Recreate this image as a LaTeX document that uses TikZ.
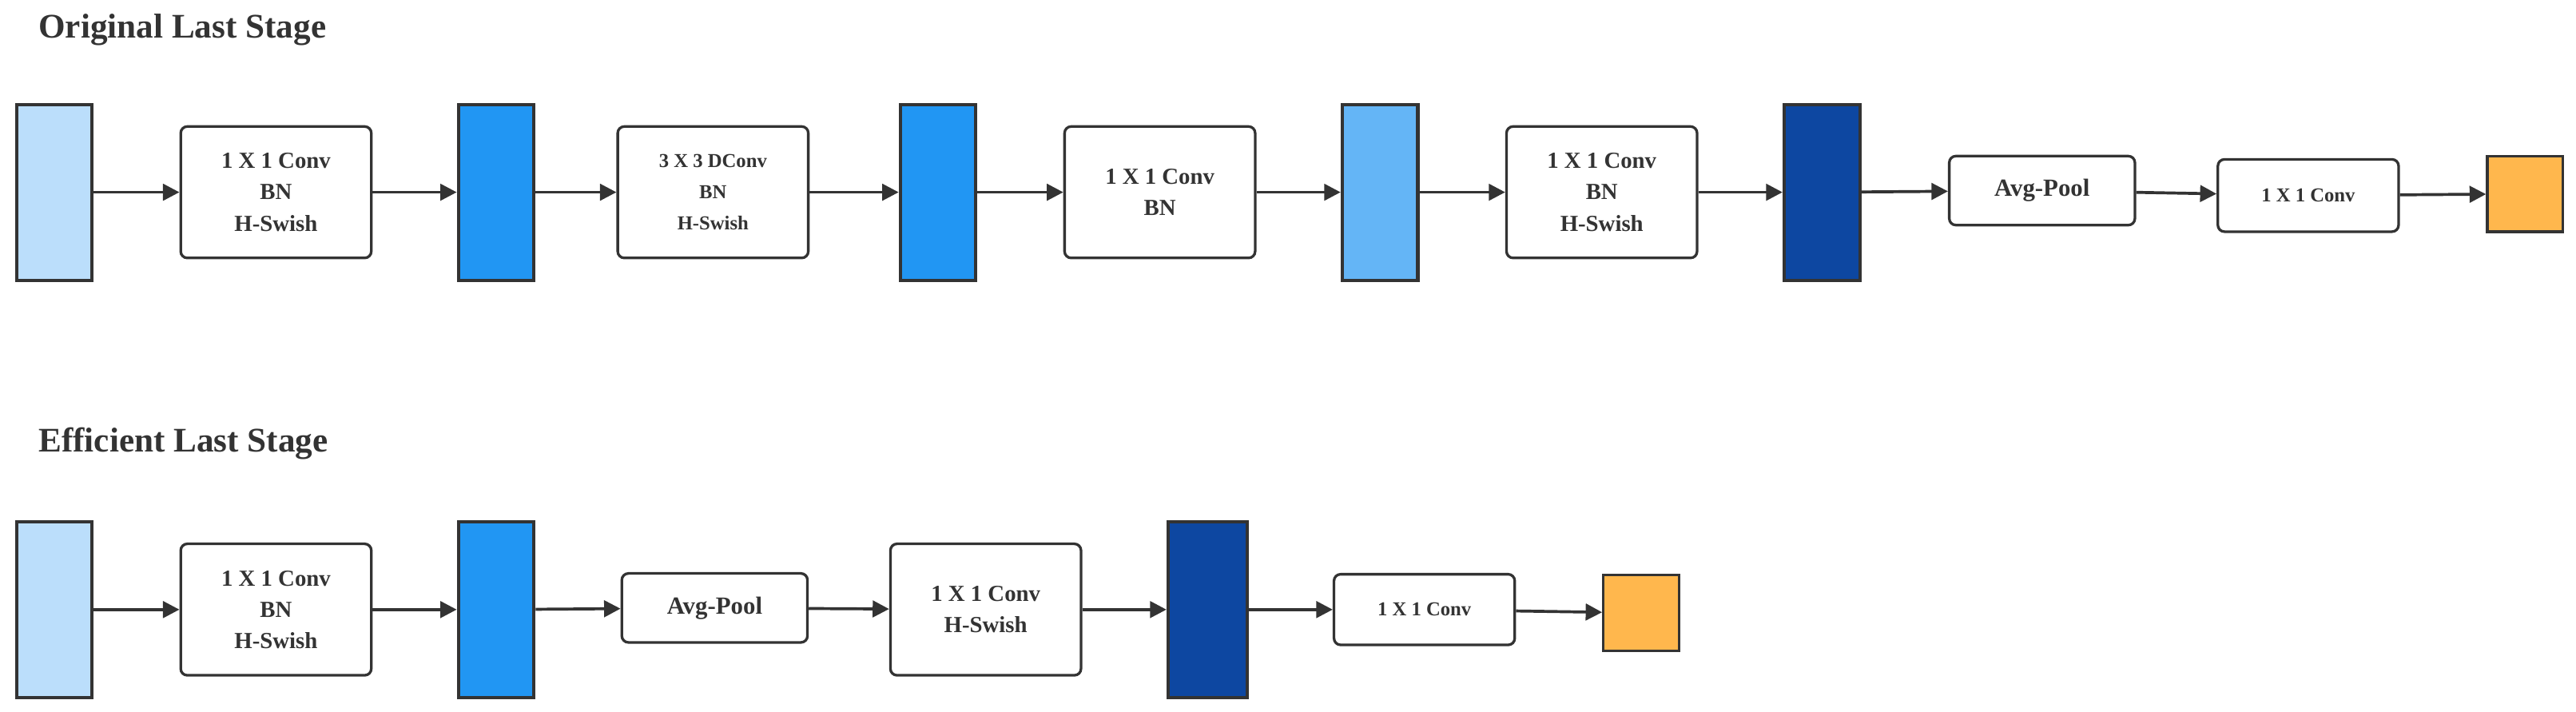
\documentclass[tikz,border=0pt]{standalone}
\usepackage{fontspec}
\setmainfont{Liberation Serif}
\usetikzlibrary{arrows.meta}
\definecolor{c1}{HTML}{BBDEFB}
\definecolor{c2}{HTML}{2196F3}
\definecolor{c3}{HTML}{64B5F6}
\definecolor{c4}{HTML}{0D47A1}
\definecolor{c5}{HTML}{FFB74D}
\definecolor{ln}{HTML}{333333}
\begin{document}
\begin{tikzpicture}[x=1pt,y=-1pt,
  fm/.style={draw=ln,line width=2pt,minimum width=46pt,minimum height=107pt,inner sep=0pt},
  op/.style={draw=ln,line width=1.6pt,rounded corners=4pt,fill=white,align=center,inner sep=0pt,font=\bfseries\fontsize{14}{19}\selectfont,text=ln},
  sq/.style={draw=ln,line width=1.6pt,minimum width=46pt,minimum height=46pt,inner sep=0pt,fill=c5},
  ar/.style={draw=ln,line width=1.8pt,-{Triangle[length=10pt,width=10pt]}},
  ttl/.style={font=\bfseries\fontsize{21}{24}\selectfont,text=ln,anchor=west}]
\useasboundingbox (0,0) rectangle (1568,433);
\node[ttl] (t1) at (20,18) {Original Last Stage};
\node[ttl] (t2) at (20,270) {Efficient Last Stage};
% row 1
\node[fm,fill=c1] (a1) at (33,117) {};
\node[op,minimum width=116pt,minimum height=80pt] (b1) at (168,117) {1 X 1 Conv\\BN\\H-Swish};
\node[fm,fill=c2] (a2) at (302,117) {};
\node[op,minimum width=116pt,minimum height=80pt,font=\bfseries\fontsize{12}{19}\selectfont] (b2) at (434,117) {3 X 3 DConv\\BN\\H-Swish};
\node[fm,fill=c2] (a3) at (571,117) {};
\node[op,minimum width=116pt,minimum height=80pt] (b3) at (706,117) {1 X 1 Conv\\BN};
\node[fm,fill=c3] (a4) at (840,117) {};
\node[op,minimum width=116pt,minimum height=80pt] (b4) at (975,117) {1 X 1 Conv\\BN\\H-Swish};
\node[fm,fill=c4] (a5) at (1109,117) {};
\node[op,minimum width=113pt,minimum height=42pt,font=\bfseries\fontsize{15}{19}\selectfont] (b5) at (1243,116) {Avg-Pool};
\node[op,minimum width=110pt,minimum height=44pt,font=\bfseries\fontsize{12}{19}\selectfont] (b6) at (1405,119) {1 X 1 Conv};
\node[sq] (o1) at (1537,118) {};
\foreach \u/\v in {a1/b1,b1/a2,a2/b2,b2/a3,a3/b3,b3/a4,a4/b4,b4/a5,a5/b5,b5/b6,b6/o1}
  \draw[ar] (\u) -- (\v);
% row 2
\node[fm,fill=c1] (d1) at (33,371) {};
\node[op,minimum width=116pt,minimum height=80pt] (e1) at (168,371) {1 X 1 Conv\\BN\\H-Swish};
\node[fm,fill=c2] (d2) at (302,371) {};
\node[op,minimum width=113pt,minimum height=42pt,font=\bfseries\fontsize{15}{19}\selectfont] (e2) at (435,370) {Avg-Pool};
\node[op,minimum width=116pt,minimum height=80pt] (e3) at (600,371) {1 X 1 Conv\\H-Swish};
\node[fm,fill=c4,minimum width=48pt] (d3) at (735,371) {};
\node[op,minimum width=110pt,minimum height=43pt,font=\bfseries\fontsize{12}{19}\selectfont] (e4) at (867,371) {1 X 1 Conv};
\node[sq] (o2) at (999,373) {};
\foreach \u/\v in {d1/e1,e1/d2,d2/e2,e2/e3,e3/d3,d3/e4,e4/o2}
  \draw[ar] (\u) -- (\v);
\end{tikzpicture}
\end{document}
